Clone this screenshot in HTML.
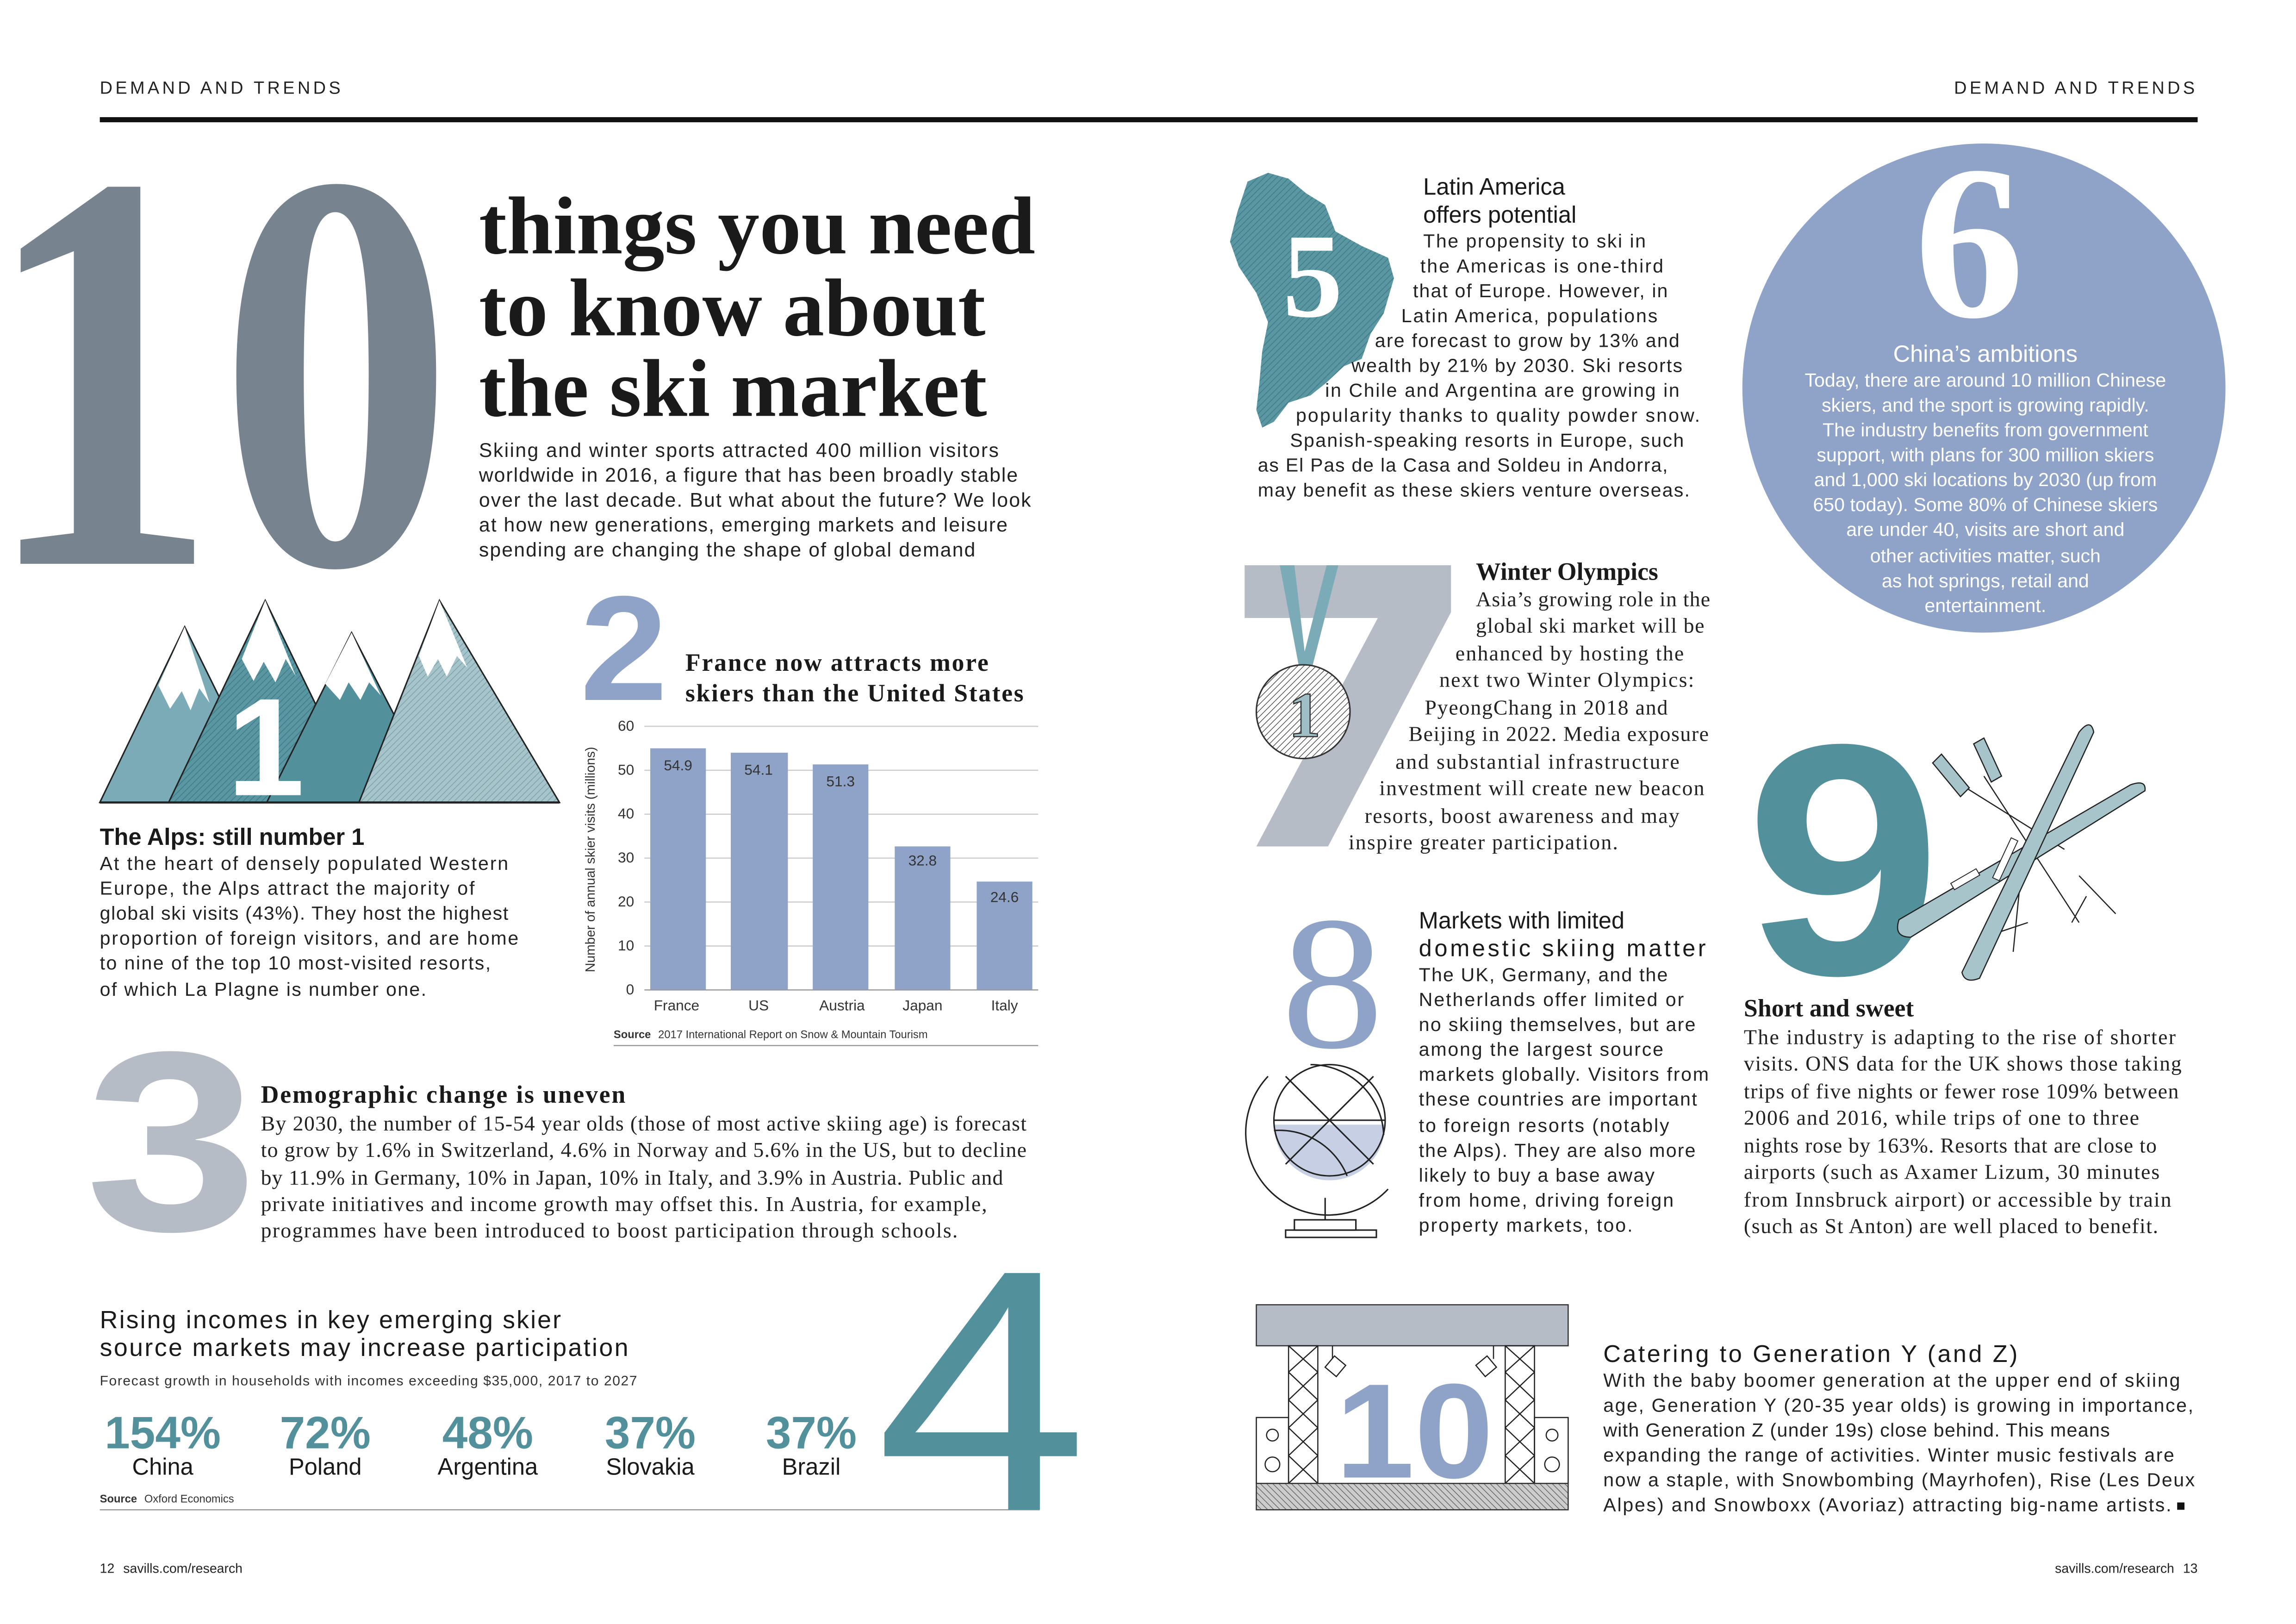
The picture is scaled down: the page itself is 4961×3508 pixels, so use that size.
<!DOCTYPE html>
<html><head><meta charset="utf-8"><style>
html,body{margin:0;padding:0;background:#fff}
svg{display:block}
.s{font-family:"Liberation Sans",sans-serif}
.r{font-family:"Liberation Serif",serif}
</style></head><body>
<svg width="4961" height="3508" viewBox="0 0 1568 1109" xmlns="http://www.w3.org/2000/svg">
<defs>
<pattern id="h" width="3" height="3" patternUnits="userSpaceOnUse" patternTransform="rotate(45)"><rect width="3" height="3" fill="#5b97a2"/><line x1="0" y1="0" x2="0" y2="3" stroke="#3f7b86" stroke-width="1"/></pattern>
<pattern id="h2" width="3" height="3" patternUnits="userSpaceOnUse" patternTransform="rotate(45)"><rect width="3" height="3" fill="#a8c4cb"/><line x1="0" y1="0" x2="0" y2="3" stroke="#6f9ba5" stroke-width="0.8"/></pattern>
<pattern id="h3" width="3" height="3" patternUnits="userSpaceOnUse" patternTransform="rotate(45)"><rect width="3" height="3" fill="#fff"/><line x1="0" y1="0" x2="0" y2="3" stroke="#333" stroke-width="0.8"/></pattern>
<pattern id="h4" width="3" height="3" patternUnits="userSpaceOnUse" patternTransform="rotate(-45)"><rect width="3" height="3" fill="#ccc"/><line x1="0" y1="0" x2="0" y2="3" stroke="#555" stroke-width="0.8"/></pattern>
</defs>
<rect width="1568" height="1109" fill="#fff"/>
<text class="s" x="68" y="64" font-size="12" letter-spacing="2" fill="#222">DEMAND AND TRENDS</text>
<text class="s" x="1501" y="64" font-size="12" letter-spacing="2" fill="#222" text-anchor="end">DEMAND AND TRENDS</text>
<rect x="68" y="80" width="1433" height="3.5" fill="#111"/>

<text class="r" x="-12" y="385" font-size="390" font-weight="bold" fill="#77838f" textLength="322" lengthAdjust="spacingAndGlyphs">10</text>
<g class="r" font-weight="bold" fill="#1a1a1a" font-size="56">
<text x="327" y="173" textLength="380" lengthAdjust="spacingAndGlyphs">things you need</text>
<text x="327" y="229" textLength="346" lengthAdjust="spacingAndGlyphs">to know about</text>
<text x="327" y="284" textLength="347" lengthAdjust="spacingAndGlyphs">the ski market</text>
</g>
<g class="s" font-size="13.5" fill="#222">
<text x="327" y="312" textLength="355">Skiing and winter sports attracted 400 million visitors</text>
<text x="327" y="329" textLength="368">worldwide in 2016, a figure that has been broadly stable</text>
<text x="327" y="346" textLength="377">over the last decade. But what about the future? We look</text>
<text x="327" y="363" textLength="361">at how new generations, emerging markets and leisure</text>
<text x="327" y="380" textLength="339">spending are changing the shape of global demand</text>
</g>

<g stroke="#222" stroke-width="1">
<polygon points="68,548 126,428 185,548" fill="#7aabb6"/>
<polygon points="126,428 143,480 136,470 130,485 124,472 116,484 108,468" fill="#fff" stroke="none"/>
<polygon points="115,548 181,410 248,548" fill="url(#h)"/>
<polygon points="181,410 202,462 195,450 188,466 180,452 173,465 165,450" fill="#fff" stroke="none"/>
<polygon points="182,548 240,432 300,548" fill="#52919c"/>
<polygon points="240,432 260,475 252,466 246,478 238,466 232,478 222,467" fill="#fff" stroke="none"/>
<polygon points="245,548 300,410 382,548" fill="url(#h2)"/>
<polygon points="300,410 319,456 312,448 305,462 299,450 292,462 286,448" fill="#fff" stroke="none"/>
<line x1="68" y1="548" x2="382" y2="548" stroke-width="1.5"/>
</g>
<text class="s" x="155" y="543" font-size="95" font-weight="bold" fill="#fff">1</text>
<text class="s" x="68" y="577" font-size="16" font-weight="bold" fill="#1a1a1a">The Alps: still number 1</text>
<g class="s" font-size="13" fill="#222">
<text x="68" y="594" textLength="279">At the heart of densely populated Western</text>
<text x="68" y="611" textLength="256">Europe, the Alps attract the majority of</text>
<text x="68" y="628" textLength="279">global ski visits (43%). They host the highest</text>
<text x="68" y="645" textLength="286">proportion of foreign visitors, and are home</text>
<text x="68" y="662" textLength="267">to nine of the top 10 most-visited resorts,</text>
<text x="68" y="680" textLength="223">of which La Plagne is number one.</text>
</g>

<text class="s" x="396" y="478" font-size="102" font-weight="bold" fill="#8fa3c9" textLength="60" lengthAdjust="spacingAndGlyphs">2</text>
<text class="r" x="468" y="458" font-size="17" font-weight="bold" fill="#1a1a1a" textLength="207">France now attracts more</text>
<text class="r" x="468" y="479" font-size="17" font-weight="bold" fill="#1a1a1a" textLength="231">skiers than the United States</text>
<g stroke="#ccc" stroke-width="0.8">
<line x1="440" y1="496" x2="709" y2="496"/><line x1="440" y1="526" x2="709" y2="526"/><line x1="440" y1="556" x2="709" y2="556"/>
<line x1="440" y1="586" x2="709" y2="586"/><line x1="440" y1="616" x2="709" y2="616"/><line x1="440" y1="646" x2="709" y2="646"/>
</g>
<g fill="#8fa3c9">
<rect x="444" y="511" width="38" height="165"/><rect x="499" y="514" width="39" height="162"/><rect x="555" y="522" width="38" height="154"/>
<rect x="611" y="578" width="38" height="98"/><rect x="667" y="602" width="38" height="74"/>
</g>
<line x1="440" y1="676" x2="709" y2="676" stroke="#999" stroke-width="0.8"/>
<g class="s" font-size="10" fill="#333" text-anchor="end">
<text x="433" y="499">60</text><text x="433" y="529">50</text><text x="433" y="559">40</text><text x="433" y="589">30</text>
<text x="433" y="619">20</text><text x="433" y="649">10</text><text x="433" y="679">0</text>
</g>
<g class="s" font-size="10" fill="#333" text-anchor="middle">
<text x="463" y="526">54.9</text><text x="518" y="529">54.1</text><text x="574" y="537">51.3</text><text x="630" y="591">32.8</text><text x="686" y="616">24.6</text>
<text x="462" y="690">France</text><text x="518" y="690">US</text><text x="575" y="690">Austria</text><text x="630" y="690">Japan</text><text x="686" y="690">Italy</text>
</g>
<text class="s" transform="translate(406,587) rotate(-90)" font-size="9" fill="#333" text-anchor="middle">Number of annual skier visits (millions)</text>
<text class="s" x="419" y="709" font-size="7.5" fill="#333"><tspan font-weight="bold">Source</tspan><tspan dx="5">2017 International Report on Snow &amp; Mountain Tourism</tspan></text>
<line x1="419" y1="714" x2="709" y2="714" stroke="#999" stroke-width="0.8"/>

<text class="s" x="58" y="840" font-size="175" font-weight="bold" fill="#b5bcc6" textLength="118" lengthAdjust="spacingAndGlyphs">3</text>
<text class="r" x="178" y="753" font-size="17" font-weight="bold" fill="#1a1a1a" textLength="249">Demographic change is uneven</text>
<g class="r" font-size="14.5" fill="#222">
<text x="178" y="772" textLength="523">By 2030, the number of 15-54 year olds (those of most active skiing age) is forecast</text>
<text x="178" y="790" textLength="523">to grow by 1.6% in Switzerland, 4.6% in Norway and 5.6% in the US, but to decline</text>
<text x="178" y="809" textLength="507">by 11.9% in Germany, 10% in Japan, 10% in Italy, and 3.9% in Austria. Public and</text>
<text x="178" y="827" textLength="496">private initiatives and income growth may offset this. In Austria, for example,</text>
<text x="178" y="845" textLength="476">programmes have been introduced to boost participation through schools.</text>
</g>

<text class="s" x="68" y="907" font-size="17" fill="#1a1a1a" textLength="315">Rising incomes in key emerging skier</text>
<text class="s" x="68" y="926" font-size="17" fill="#1a1a1a" textLength="361">source markets may increase participation</text>
<text class="s" x="68" y="946" font-size="9.5" fill="#333" textLength="367">Forecast growth in households with incomes exceeding $35,000, 2017 to 2027</text>
<g class="s" font-size="31" font-weight="bold" fill="#52919c" text-anchor="middle">
<text x="111" y="989">154%</text><text x="222" y="989">72%</text><text x="333" y="989">48%</text><text x="444" y="989">37%</text><text x="554" y="989">37%</text>
</g>
<g class="s" font-size="16" fill="#1a1a1a" text-anchor="middle">
<text x="111" y="1007">China</text><text x="222" y="1007">Poland</text><text x="333" y="1007">Argentina</text><text x="444" y="1007">Slovakia</text><text x="554" y="1007">Brazil</text>
</g>
<text class="s" x="68" y="1026" font-size="7.5" fill="#333"><tspan font-weight="bold">Source</tspan><tspan dx="5">Oxford Economics</tspan></text>
<line x1="68" y1="1031" x2="710" y2="1031" stroke="#999" stroke-width="0.8"/>
<text class="s" x="598" y="1031" font-size="235" fill="#52919c" textLength="145" lengthAdjust="spacingAndGlyphs">4</text>

<path d="M852,124 L866,118 L880,122 L892,132 L905,140 L912,158 L930,168 L948,176 L952,190 L945,214 L936,228 L930,245 L918,250 L905,262 L895,270 L880,275 L870,288 L862,292 L858,280 L860,262 L862,240 L866,220 L858,200 L846,182 L840,165 L845,145 Z" fill="url(#h)"/>
<text class="r" x="876" y="216" font-size="82" font-weight="bold" fill="#fff">5</text>
<text class="s" x="972" y="133" font-size="16" fill="#1a1a1a">Latin America</text>
<text class="s" x="972" y="152" font-size="16" fill="#1a1a1a">offers potential</text>
<g class="s" font-size="13" fill="#222">
<text x="972" y="169" textLength="152">The propensity to ski in</text>
<text x="970" y="186" textLength="166">the Americas is one-third</text>
<text x="965" y="203" textLength="174">that of Europe. However, in</text>
<text x="957" y="220" textLength="175">Latin America, populations</text>
<text x="939" y="237" textLength="208">are forecast to grow by 13% and</text>
<text x="923" y="254" textLength="226">wealth by 21% by 2030. Ski resorts</text>
<text x="905" y="271" textLength="242">in Chile and Argentina are growing in</text>
<text x="885" y="288" textLength="276">popularity thanks to quality powder snow.</text>
<text x="881" y="305" textLength="269">Spanish-speaking resorts in Europe, such</text>
<text x="859" y="322" textLength="280">as El Pas de la Casa and Soldeu in Andorra,</text>
<text x="859" y="339" textLength="295">may benefit as these skiers venture overseas.</text>
</g>

<ellipse cx="1355" cy="265" rx="165" ry="167" fill="#8fa3c9"/>
<text class="r" x="1345" y="216" font-size="150" font-weight="bold" fill="#fff" text-anchor="middle">6</text>
<text class="s" x="1356" y="247" font-size="16" fill="#fff" text-anchor="middle">China’s ambitions</text>
<g class="s" font-size="13" fill="#fff" text-anchor="middle">
<text x="1356" y="264">Today, there are around 10 million Chinese</text>
<text x="1356" y="281">skiers, and the sport is growing rapidly.</text>
<text x="1356" y="298">The industry benefits from government</text>
<text x="1356" y="315">support, with plans for 300 million skiers</text>
<text x="1356" y="332">and 1,000 ski locations by 2030 (up from</text>
<text x="1356" y="349">650 today). Some 80% of Chinese skiers</text>
<text x="1356" y="366">are under 40, visits are short and</text>
<text x="1356" y="384">other activities matter, such</text>
<text x="1356" y="401">as hot springs, retail and</text>
<text x="1356" y="418">entertainment.</text>
</g>

<polygon points="850,386 991,386 991,418 907,578 858,578 941,422 850,422" fill="#b5bcc6"/>
<polygon points="874,386 884,386 891,445 906,386 914,386 895,460 888,460" fill="#7aabb6"/>
<circle cx="890" cy="486" r="32" fill="url(#h3)" stroke="#333" stroke-width="1"/>
<text class="r" x="891" y="503" font-size="44" font-weight="bold" fill="#9fbfc6" stroke="#333" stroke-width="0.8" text-anchor="middle">1</text>
<text class="r" x="1008" y="396" font-size="17" font-weight="bold" fill="#1a1a1a">Winter Olympics</text>
<g class="r" font-size="14.5" fill="#222">
<text x="1008" y="414" textLength="160">Asia’s growing role in the</text>
<text x="1008" y="432" textLength="156">global ski market will be</text>
<text x="994" y="451" textLength="156">enhanced by hosting the</text>
<text x="983" y="469" textLength="174">next two Winter Olympics:</text>
<text x="973" y="488" textLength="166">PyeongChang in 2018 and</text>
<text x="962" y="506" textLength="205">Beijing in 2022. Media exposure</text>
<text x="953" y="525" textLength="194">and substantial infrastructure</text>
<text x="942" y="543" textLength="222">investment will create new beacon</text>
<text x="932" y="562" textLength="215">resorts, boost awareness and may</text>
<text x="921" y="580" textLength="184">inspire greater participation.</text>
</g>

<text class="r" x="910" y="715" font-size="130" fill="#8fa3c9" text-anchor="middle" textLength="70" lengthAdjust="spacingAndGlyphs">8</text>
<g stroke="#222" stroke-width="1" fill="none">
<path d="M870,768 A38,38 0 0 0 946,768 Z" fill="#c6cfe3" stroke="none"/>
<circle cx="908" cy="765" r="38"/>
<path d="M866,735 A55,55 0 0 0 948,812"/>
<line x1="878" y1="735" x2="938" y2="795"/><line x1="938" y1="735" x2="878" y2="795"/>
<path d="M895,727 A50,50 0 0 1 945,775"/><path d="M870,772 A50,50 0 0 1 920,803"/>
<line x1="870" y1="765" x2="946" y2="765"/>
<line x1="905" y1="818" x2="905" y2="833"/>
<rect x="884" y="833" width="42" height="7"/><rect x="878" y="840" width="62" height="5"/>
</g>
<text class="s" x="969" y="634" font-size="16" fill="#1a1a1a">Markets with limited</text>
<text class="s" x="969" y="653" font-size="16" fill="#1a1a1a" textLength="196">domestic skiing matter</text>
<g class="s" font-size="13" fill="#222">
<text x="969" y="670" textLength="170">The UK, Germany, and the</text>
<text x="969" y="687" textLength="181">Netherlands offer limited or</text>
<text x="969" y="704" textLength="189">no skiing themselves, but are</text>
<text x="969" y="721" textLength="167">among the largest source</text>
<text x="969" y="738" textLength="198">markets globally. Visitors from</text>
<text x="969" y="755" textLength="190">these countries are important</text>
<text x="969" y="773" textLength="171">to foreign resorts (notably</text>
<text x="969" y="790" textLength="189">the Alps). They are also more</text>
<text x="969" y="807" textLength="161">likely to buy a base away</text>
<text x="969" y="824" textLength="174">from home, driving foreign</text>
<text x="969" y="841" textLength="146">property markets, too.</text>
</g>

<text class="s" x="1192" y="665" font-size="225" font-weight="bold" fill="#52919c" textLength="134" lengthAdjust="spacingAndGlyphs">9</text>
<g stroke="#222" stroke-width="0.8" fill="none">
<line x1="1330" y1="530" x2="1410" y2="580"/><line x1="1355" y1="530" x2="1420" y2="630"/>
<line x1="1420" y1="598" x2="1445" y2="624"/><line x1="1415" y1="630" x2="1425" y2="612"/>
<line x1="1380" y1="600" x2="1375" y2="650"/><line x1="1355" y1="640" x2="1385" y2="630"/>
</g>
<polygon points="1320,521 1326,515 1345,538 1339,544" fill="#a8c4cb" stroke="#222" stroke-width="0.8"/>
<polygon points="1348,508 1355,504 1367,530 1360,534" fill="#a8c4cb" stroke="#222" stroke-width="0.8"/>
<path d="M1297,628 L1455,536 Q1466,532 1465,540 L1305,640 Q1293,640 1297,628 Z" fill="#a8c4cb" stroke="#222" stroke-width="0.8"/>
<path d="M1340,664 L1420,500 Q1428,490 1430,500 L1352,668 Q1342,672 1340,664 Z" fill="#a8c4cb" stroke="#222" stroke-width="0.8"/>
<rect x="1367" y="572" width="5" height="30" fill="#fff" stroke="#222" stroke-width="0.6" transform="rotate(25 1370 587)"/>
<rect x="1332" y="598" width="20" height="5" fill="#fff" stroke="#222" stroke-width="0.6" transform="rotate(-30 1342 600)"/>
<text class="r" x="1191" y="694" font-size="17" font-weight="bold" fill="#1a1a1a">Short and sweet</text>
<g class="r" font-size="14.5" fill="#222">
<text x="1191" y="713" textLength="295">The industry is adapting to the rise of shorter</text>
<text x="1191" y="731" textLength="299">visits. ONS data for the UK shows those taking</text>
<text x="1191" y="750" textLength="297">trips of five nights or fewer rose 109% between</text>
<text x="1191" y="768" textLength="270">2006 and 2016, while trips of one to three</text>
<text x="1191" y="787" textLength="282">nights rose by 163%. Resorts that are close to</text>
<text x="1191" y="805" textLength="284">airports (such as Axamer Lizum, 30 minutes</text>
<text x="1191" y="824" textLength="292">from Innsbruck airport) or accessible by train</text>
<text x="1191" y="842" textLength="283">(such as St Anton) are well placed to benefit.</text>
</g>

<rect x="858" y="891" width="213" height="28" fill="#b5bcc6" stroke="#333" stroke-width="0.8"/>
<g stroke="#222" stroke-width="0.8" fill="none">
<rect x="880" y="919" width="20" height="94"/><rect x="1028" y="919" width="20" height="94"/>
<path d="M880,919 L900,937 M900,919 L880,937 M880,937 L900,956 M900,937 L880,956 M880,956 L900,975 M900,956 L880,975 M880,975 L900,994 M900,975 L880,994 M880,994 L900,1013 M900,994 L880,1013"/>
<path d="M1028,919 L1048,937 M1048,919 L1028,937 M1028,937 L1048,956 M1048,937 L1028,956 M1028,956 L1048,975 M1048,956 L1028,975 M1028,975 L1048,994 M1048,975 L1028,994 M1028,994 L1048,1013 M1048,994 L1028,1013"/>
<rect x="858" y="968" width="22" height="45"/><rect x="1048" y="968" width="23" height="45"/>
<circle cx="869" cy="980" r="4"/><circle cx="869" cy="1000" r="5"/><circle cx="1060" cy="980" r="4"/><circle cx="1060" cy="1000" r="5"/>
<line x1="910" y1="919" x2="910" y2="928"/><rect x="907" y="928" width="10" height="10" transform="rotate(40 912 933)"/>
<line x1="1020" y1="919" x2="1020" y2="928"/><rect x="1010" y="928" width="10" height="10" transform="rotate(-40 1015 933)"/>
</g>
<text class="s" x="912" y="1009" font-size="92" font-weight="bold" fill="#8fa3c9" textLength="108" lengthAdjust="spacingAndGlyphs">10</text>
<rect x="858" y="1013" width="213" height="18" fill="url(#h4)" stroke="#333" stroke-width="0.8"/>
<text class="s" x="1095" y="930" font-size="16.5" fill="#1a1a1a" textLength="283">Catering to Generation Y (and Z)</text>
<g class="s" font-size="13" fill="#222">
<text x="1095" y="947" textLength="394">With the baby boomer generation at the upper end of skiing</text>
<text x="1095" y="964" textLength="403">age, Generation Y (20-35 year olds) is growing in importance,</text>
<text x="1095" y="981" textLength="346">with Generation Z (under 19s) close behind. This means</text>
<text x="1095" y="998" textLength="390">expanding the range of activities. Winter music festivals are</text>
<text x="1095" y="1015" textLength="404">now a staple, with Snowbombing (Mayrhofen), Rise (Les Deux</text>
<text x="1095" y="1032" textLength="388">Alpes) and Snowboxx (Avoriaz) attracting big-name artists.</text>
</g>
<rect x="1487" y="1026" width="5" height="5" fill="#111"/>

<text class="s" x="68" y="1074" font-size="9" fill="#222">12<tspan dx="6">savills.com/research</tspan></text>
<text class="s" x="1501" y="1074" font-size="9" fill="#222" text-anchor="end">savills.com/research<tspan dx="6">13</tspan></text>
</svg>
</body></html>
